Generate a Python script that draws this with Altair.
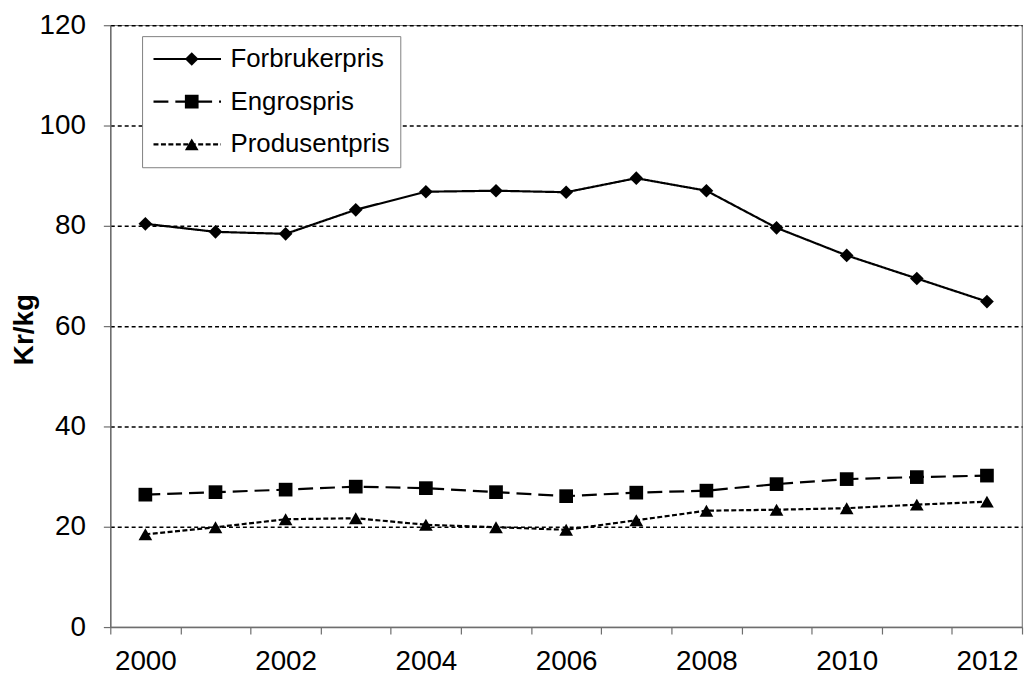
import altair as alt
import pandas as pd

# ---- data ----
years = list(range(2000, 2013))
forbrukerpris = [80.4, 78.8, 78.4, 83.2, 86.8, 87.0, 86.7, 89.5, 87.0, 79.6, 74.1, 69.5, 64.9]
engrospris = [26.4, 26.9, 27.4, 28.0, 27.7, 26.9, 26.1, 26.8, 27.2, 28.5, 29.5, 29.9, 30.2]
produsentpris = [18.5, 19.9, 21.5, 21.7, 20.4, 19.9, 19.4, 21.3, 23.2, 23.4, 23.7, 24.4, 25.0]
series_names = ["Forbrukerpris", "Engrospris", "Produsentpris"]
marker_keys = ["m1", "m2", "m3"]
marker_shapes = ["diamond", "square", "triangle-up"]
dash_styles = [[1, 0], [15, 7], [5, 2.5]]
y_ticks = [0, 20, 40, 60, 80, 100, 120]
y_title = "Kr/kg"

x_tick_edges = [yr - 0.5 for yr in years] + [years[-1] + 0.5]

rows = []
for name, key, vals in zip(series_names, marker_keys, [forbrukerpris, engrospris, produsentpris]):
    for yr, v in zip(years, vals):
        rows.append({"year": yr, "value": v, "series": name, "marker": key})
df = pd.DataFrame(rows)

W, H = 918, 606
band = W / len(years)
FONT = "Liberation Sans"
AXIS_GRAY = "#6e6e6e"

# legend placement (relative to the plot area)
LX, LY = 32, 11
LINE_LEN = 68
CLIP_H = 26
ROW_PAD = 17
LEG_PAD = 10
LEG_FONT = 26

x_enc = alt.X(
    "year:Q",
    scale=alt.Scale(domain=[years[0] - 0.5, years[-1] + 0.5], nice=False, zero=False),
    axis=alt.Axis(
        values=x_tick_edges,
        labelExpr="(datum.value + 0.5) % 2 == 0 ? format(datum.value + 0.5, 'd') : ''",
        labelOffset=band / 2,
        labelOverlap=False,
        labelFlush=False,
        labelBound=False,
        labelAlign="center",
        labelBaseline="top",
        labelPadding=14,
        labelFontSize=28,
        labelColor="black",
        labelFont=FONT,
        tickSize=7,
        tickColor=AXIS_GRAY,
        tickWidth=1.2,
        domainColor=AXIS_GRAY,
        domainWidth=1.5,
        grid=False,
        title=None,
    ),
)

y_enc = alt.Y(
    "value:Q",
    scale=alt.Scale(domain=[0, 120], nice=False, zero=True),
    axis=alt.Axis(
        values=y_ticks,
        grid=True,
        gridColor="black",
        gridDash=[4, 3],
        gridWidth=1.5,
        gridOpacity={"condition": {"test": "datum.value === 0", "value": 0}, "value": 1},
        labelFontSize=28,
        labelColor="black",
        labelFont=FONT,
        labelPadding=18,
        tickSize=7,
        tickColor=AXIS_GRAY,
        tickWidth=1.2,
        domainColor=AXIS_GRAY,
        domainWidth=1.5,
        title=y_title,
        titleFont=FONT,
        titleFontSize=28,
        titleFontWeight="bold",
        titleColor="black",
        titleAngle=270,
        titleAlign="center",
        titleBaseline="middle",
        titleX=-86,
        titleY=306,
    ),
)

lines = alt.Chart(df).mark_line(color="black", strokeWidth=2.2).encode(
    x=x_enc,
    y=y_enc,
    detail="series:N",
    strokeDash=alt.StrokeDash(
        "series:N",
        scale=alt.Scale(domain=series_names, range=dash_styles),
        legend=alt.Legend(
            orient="none",
            legendX=LX,
            legendY=LY,
            title=None,
            symbolType="stroke",
            symbolSize=LINE_LEN ** 2,
            symbolStrokeWidth=2.2,
            symbolStrokeColor="black",
            labelFontSize=LEG_FONT,
            labelFont=FONT,
            labelColor="black",
            labelOffset=8,
            labelLimit=400,
            clipHeight=CLIP_H,
            rowPadding=ROW_PAD,
            padding=LEG_PAD,
            strokeColor="#808080",
            fillColor="white",
        ),
    ),
)

points = alt.Chart(df).mark_point(filled=True, color="black", opacity=1, size=190).encode(
    x=x_enc,
    y=y_enc,
    shape=alt.Shape(
        "marker:N",
        scale=alt.Scale(domain=marker_keys, range=marker_shapes),
        legend=alt.Legend(
            orient="none",
            legendX=LX + LINE_LEN / 2 - 7,
            legendY=LY,
            title=None,
            symbolSize=190,
            symbolFillColor="black",
            symbolStrokeColor="black",
            symbolStrokeWidth=0,
            labelFontSize=LEG_FONT,
            labelFont=FONT,
            labelExpr="''",
            labelOffset=8,
            clipHeight=CLIP_H,
            rowPadding=ROW_PAD,
            padding=LEG_PAD,
        ),
    ),
)

chart = (
    alt.layer(lines, points)
    .properties(
        width=W,
        height=H,
        padding={"left": 103, "top": 15, "right": 2, "bottom": 56},
        autosize=alt.AutoSizeParams(type="none"),
        background="white",
    )
    .configure(font=FONT)
    .configure_view(stroke="#808080", strokeWidth=1.2)
)

chart.save("out.html", embed_options={"renderer": "svg", "actions": False})
